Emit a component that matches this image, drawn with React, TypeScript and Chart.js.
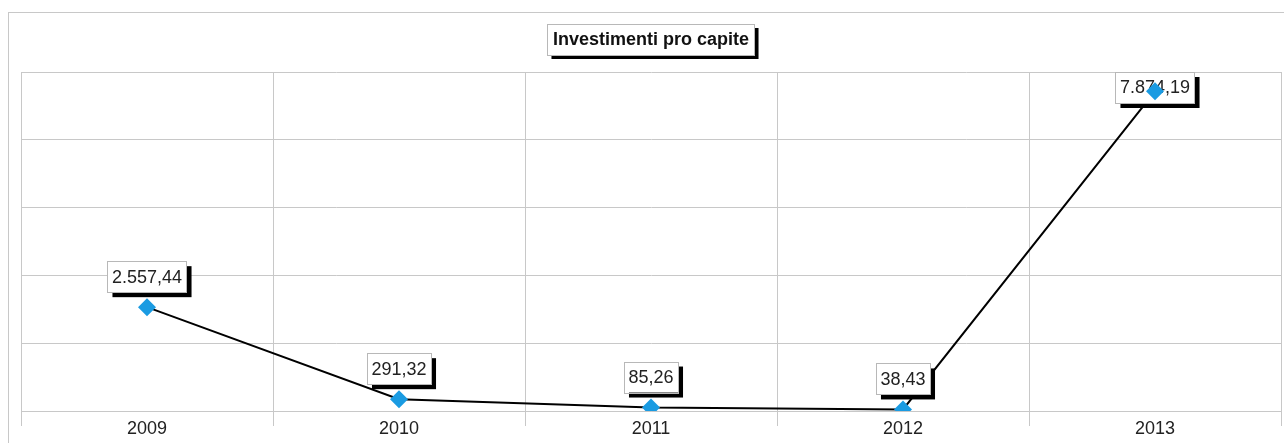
import React, { useEffect, useRef } from "react";
import { Chart, registerables } from "chart.js";

Chart.register(...registerables);

const categories = ["2009", "2010", "2011", "2012", "2013"];
const values = [2557.44, 291.32, 85.26, 38.43, 7874.19];
const chartTitle = "Investimenti pro capite";
const yMax = 8350;
const yStep = 1670;

const FONT = "'Liberation Sans', Arial, sans-serif";
const GRID = "#c8c8c8";

function fmtIt(v: number): string {
  const fixed = v.toFixed(2);
  const [intPart, dec] = fixed.split(".");
  const withDots = intPart.replace(/\B(?=(\d{3})+(?!\d))/g, ".");
  return withDots + "," + dec;
}

function shadowBox(ctx: CanvasRenderingContext2D, x: number, y: number, w: number, h: number, off: number) {
  ctx.fillStyle = "#000";
  ctx.fillRect(x + off, y + off, w, h);
  ctx.fillStyle = "#fff";
  ctx.fillRect(x, y, w, h);
  ctx.strokeStyle = "#b8b8b8";
  ctx.lineWidth = 1;
  ctx.strokeRect(Math.round(x) + 0.5, Math.round(y) + 0.5, Math.round(w), Math.round(h));
}

const framePlugin = {
  id: "frame",
  beforeDraw(chart: any) {
    const ctx = chart.ctx as CanvasRenderingContext2D;
    ctx.save();
    ctx.fillStyle = "#fff";
    ctx.fillRect(0, 0, chart.width, chart.height);
    ctx.strokeStyle = GRID;
    ctx.lineWidth = 1;
    ctx.beginPath();
    ctx.moveTo(8, 12.5);
    ctx.lineTo(chart.width, 12.5);
    ctx.moveTo(8.5, 12);
    ctx.lineTo(8.5, chart.height);
    ctx.stroke();
    ctx.restore();
  },
  afterDraw(chart: any) {
    const ctx = chart.ctx as CanvasRenderingContext2D;
    const area = chart.chartArea;
    ctx.save();
    ctx.font = "bold 18px " + FONT;
    const tw = ctx.measureText(chartTitle).width;
    const w = tw + 11;
    const h = 31;
    const cx = (area.left + area.right) / 2;
    const x = cx - w / 2;
    const y = 24;
    shadowBox(ctx, x, y, w, h, 4);
    ctx.fillStyle = "#111";
    ctx.textAlign = "center";
    ctx.textBaseline = "middle";
    ctx.fillText(chartTitle, cx, y + h / 2 + 1);
    ctx.restore();
  },
};

const labelPlugin = {
  id: "valueLabels",
  beforeDatasetDraw(chart: any, args: any) {
    if (args.index !== 1) return;
    const ctx = chart.ctx as CanvasRenderingContext2D;
    const area = chart.chartArea;
    const meta = chart.getDatasetMeta(1);
    ctx.save();
    ctx.font = "18px " + FONT;
    meta.data.forEach((pt: any, i: number) => {
      const text = fmtIt(values[i]);
      const tw = ctx.measureText(text).width;
      const w = tw + 9;
      const h = 31;
      let y = pt.y - 15 - h;
      if (y < area.top) y = area.top;
      const x = pt.x - w / 2;
      shadowBox(ctx, x, y, w, h, 5);
      ctx.fillStyle = "#222";
      ctx.textAlign = "center";
      ctx.textBaseline = "middle";
      ctx.fillText(text, pt.x, y + h / 2 + 1);
    });
    ctx.restore();
  },
};

export default function App() {
  const ref = useRef<HTMLCanvasElement>(null);
  useEffect(() => {
    if (!ref.current) return;
    const chart = new Chart(ref.current, {
      type: "line",
      data: {
        labels: categories,
        datasets: [
          {
            data: values,
            borderColor: "#000",
            borderWidth: 2,
            pointRadius: 0,
            fill: false,
            tension: 0,
            order: 2,
          },
          {
            data: values,
            showLine: false,
            pointStyle: "rectRot",
            pointRadius: 9,
            pointBackgroundColor: "#1a9be2",
            pointBorderColor: "#1a9be2",
            pointBorderWidth: 0,
            order: 1,
          },
        ],
      },
      options: {
        responsive: false,
        animation: false,
        layout: { autoPadding: false, padding: { left: 21, top: 72, right: 3, bottom: 0 } },
        plugins: {
          legend: { display: false },
          title: { display: false },
          tooltip: { enabled: false },
        },
        scales: {
          x: {
            type: "category",
            offset: true,
            grid: {
              offset: true,
              color: GRID,
              tickColor: GRID,
              tickLength: 15,
              drawTicks: true,
            },
            border: { display: true, color: GRID },
            ticks: {
              font: { family: FONT, size: 18 },
              color: "#222",
              padding: -8,
              maxRotation: 0,
              autoSkip: false,
            },
            afterFit: (s: any) => {
              s.height = 32;
              s.paddingLeft = 0;
              s.paddingRight = 0;
            },
          },
          y: {
            min: 0,
            max: yMax,
            ticks: { display: false, stepSize: yStep },
            grid: { color: GRID, drawTicks: false },
            border: { display: true, color: GRID },
            afterFit: (s: any) => {
              s.width = 0;
              s.paddingTop = 0;
              s.paddingBottom = 0;
            },
          },
        },
      },
      plugins: [framePlugin, labelPlugin],
    } as any);
    return () => chart.destroy();
  }, []);
  return (
    <div style={{ position: "absolute", left: 0, top: 0, width: 1284, height: 443 }}>
      <canvas ref={ref} width={1284} height={443} style={{ display: "block" }} />
    </div>
  );
}
